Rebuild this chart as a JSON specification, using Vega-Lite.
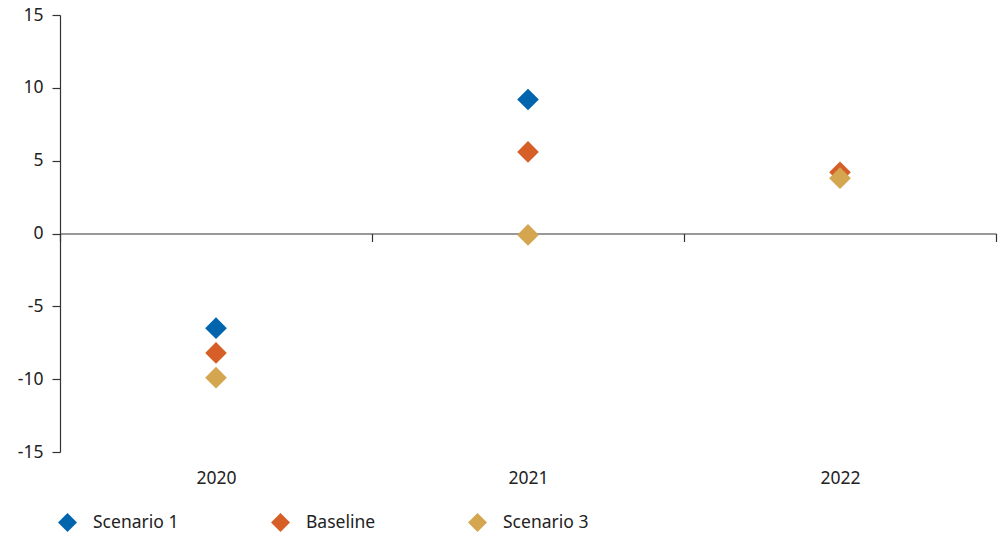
{
  "$schema": "https://vega.github.io/schema/vega-lite/v6.json",
  "width": 936,
  "height": 437,
  "autosize": "none",
  "padding": {"left": 60, "top": 15, "right": 6, "bottom": 85},
  "background": "white",
  "config": {
    "font": "Noto Sans",
    "view": {"stroke": null},
    "axis": {"labelFont": "Noto Sans", "labelFontSize": 17.5, "labelColor": "#222222", "domainColor": "#333333", "tickColor": "#333333", "grid": false, "title": null}
  },
  "data": {
    "values": [
      {"year": "2020", "series": "Scenario 1", "value": -6.5},
      {"year": "2020", "series": "Baseline", "value": -8.2},
      {"year": "2020", "series": "Scenario 3", "value": -9.9},
      {"year": "2021", "series": "Scenario 1", "value": 9.2},
      {"year": "2021", "series": "Baseline", "value": 5.6},
      {"year": "2021", "series": "Scenario 3", "value": -0.1},
      {"year": "2022", "series": "Baseline", "value": 4.2},
      {"year": "2022", "series": "Scenario 3", "value": 3.8}
    ]
  },
  "mark": {"type": "point", "shape": "diamond", "filled": true, "opacity": 1, "size": 470},
  "encoding": {
    "x": {
      "field": "year",
      "type": "ordinal",
      "scale": {"paddingInner": 0, "paddingOuter": 0},
      "axis": {
        "orient": "bottom",
        "offset": -218.5,
        "labelAngle": 0,
        "tickBand": "extent",
        "tickSize": 8,
        "labelPadding": 228,
        "labelBaseline": "top",
        "domainWidth": 1.2,
        "tickWidth": 1.2
      }
    },
    "y": {
      "field": "value",
      "type": "quantitative",
      "scale": {"domain": [-15, 15], "nice": false, "zero": false},
      "axis": {
        "values": [-15, -10, -5, 0, 5, 10, 15],
        "labelExpr": "replace(datum.label, '\u2212', '-')",
        "tickSize": 8,
        "labelPadding": 9,
        "domainWidth": 1.2,
        "tickWidth": 1.2
      }
    },
    "color": {
      "field": "series",
      "type": "nominal",
      "scale": {"domain": ["Scenario 1", "Baseline", "Scenario 3"], "range": ["#0065AD", "#D65F27", "#D3A64F"]},
      "legend": {
        "title": null,
        "orient": "none",
        "direction": "horizontal",
        "legendX": -3,
        "legendY": 497,
        "symbolType": "diamond",
        "symbolSize": 360,
        "symbolOpacity": 1,
        "labelFont": "Noto Sans",
        "labelFontSize": 17.5,
        "labelColor": "#222222",
        "labelOffset": 15,
        "columnPadding": 91
      }
    }
  }
}
